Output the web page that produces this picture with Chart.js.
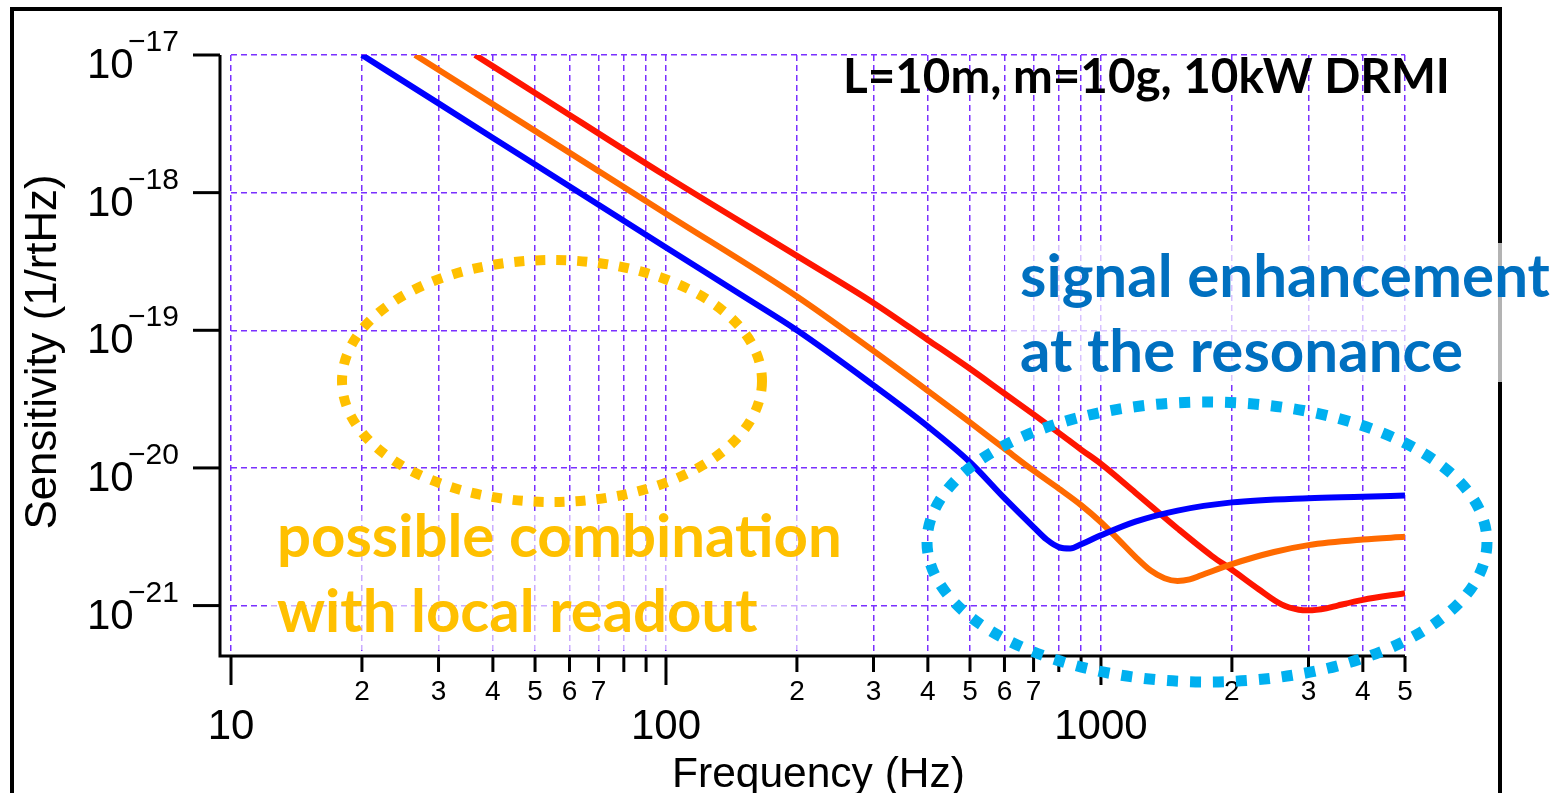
<!DOCTYPE html>
<html>
<head>
<meta charset="utf-8">
<script src="https://cdn.jsdelivr.net/npm/chart.js@4.4.0/dist/chart.umd.min.js"></script>
<style>
  html, body { margin: 0; padding: 0; background: #fff; }
</style>
</head>
<body>
<canvas id="sensChart" width="1565" height="793"></canvas>
<script>
// values (Hz, 1/rtHz)
const blueFreq = [20, 30, 50, 100, 150, 200, 300, 400, 500, 600, 700, 750, 800, 850, 900, 1000, 1200, 1500, 2000, 3000, 4000, 5000];
const blueSens = [1.0e-17, 4.45e-18, 1.6e-18, 4.0e-19, 1.78e-19, 1.0e-19, 3.98e-20, 2.0e-20, 1.1e-20, 6.03e-21, 3.72e-21, 3.02e-21, 2.66e-21, 2.6e-21, 2.79e-21, 3.24e-21, 4.07e-21, 4.9e-21, 5.62e-21, 6.03e-21, 6.17e-21, 6.31e-21];

const orangeFreq = [26.5, 50, 100, 200, 300, 400, 500, 600, 700, 800, 900, 1000, 1100, 1200, 1300, 1400, 1500, 1600, 1700, 2000, 2500, 3000, 4000, 5000];
const orangeSens = [1.0e-17, 2.81e-18, 7.03e-19, 1.76e-19, 7.08e-20, 3.63e-20, 2.14e-20, 1.38e-20, 9.55e-21, 7.08e-21, 5.37e-21, 4.03e-21, 2.99e-21, 2.26e-21, 1.8e-21, 1.58e-21, 1.51e-21, 1.55e-21, 1.66e-21, 2.0e-21, 2.45e-21, 2.75e-21, 3.02e-21, 3.16e-21];

const redFreq = [36.4, 50, 100, 200, 300, 400, 500, 600, 700, 800, 900, 1000, 1200, 1500, 1800, 2000, 2300, 2600, 2850, 3000, 3300, 3500, 4000, 5000];
const redSens = [1.0e-17, 5.3e-18, 1.32e-18, 3.47e-19, 1.58e-19, 8.51e-20, 5.25e-20, 3.47e-20, 2.45e-20, 1.8e-20, 1.36e-20, 1.07e-20, 6.61e-21, 3.63e-21, 2.29e-21, 1.82e-21, 1.32e-21, 1.02e-21, 9.33e-22, 9.23e-22, 9.55e-22, 1.0e-21, 1.1e-21, 1.23e-21];

// axis ticks
const xGridVals = [10, 20, 30, 40, 50, 60, 70, 80, 90, 100, 200, 300, 400, 500, 600, 700, 800, 900, 1000, 2000, 3000, 4000, 5000];
const xMajorVals = [10, 100, 1000];
const xMajorLabels = ['10', '100', '1000'];
const xMinorLabelVals = [20, 30, 40, 50, 60, 70, 200, 300, 400, 500, 600, 700, 2000, 3000, 4000, 5000];
const xMinorLabels = ['2', '3', '4', '5', '6', '7', '2', '3', '4', '5', '6', '7', '2', '3', '4', '5'];
const yTickVals = [1e-21, 1e-20, 1e-19, 1e-18, 1e-17];
const yTickExps = ['\u221221', '\u221220', '\u221219', '\u221218', '\u221217'];

const gridColor = '#7a30ff';
const narrow = "'Liberation Sans Narrow', 'Liberation Sans', sans-serif";

function toPoints(fs, vs) {
  return fs.map((f, i) => ({ x: f, y: vs[i] }));
}

function fitFont(ctx, text, width, weight, family) {
  ctx.font = `${weight} 100px ${family}`;
  const w = ctx.measureText(text).width;
  return 100 * width / w;
}

function dottedEllipse(ctx, cx, cy, rx, ry, color, lw, dash) {
  ctx.save();
  ctx.strokeStyle = color;
  ctx.lineWidth = lw;
  ctx.setLineDash(dash);
  ctx.lineCap = 'butt';
  ctx.beginPath();
  ctx.ellipse(cx, cy, rx, ry, 0, 0, Math.PI * 2);
  ctx.stroke();
  ctx.restore();
}

const decor = {
  id: 'decor',
  beforeDatasetsDraw(chart) {
    const ctx = chart.ctx;
    ctx.save();
    // outer frame
    ctx.strokeStyle = '#000';
    ctx.lineWidth = 4;
    ctx.beginPath();
    ctx.moveTo(12, 800);
    ctx.lineTo(12, 9);
    ctx.lineTo(1500, 9);
    ctx.lineTo(1500, 800);
    ctx.stroke();
    // half-transparent backings behind the notes
    ctx.fillStyle = 'rgba(255,255,255,0.7)';
    ctx.fillRect(1005, 243, 510, 139);
    ctx.fillStyle = 'rgba(255,255,255,0.6)';
    ctx.fillRect(270, 512, 580, 138);
    ctx.restore();
  },
  afterDatasetsDraw(chart) {
    const ctx = chart.ctx;
    const xs = chart.scales.x;
    const ys = chart.scales.y;
    const axisX = 220, axisY = 656;
    const top = ys.getPixelForValue(1e-17);
    const right = xs.getPixelForValue(5000);
    ctx.save();
    ctx.strokeStyle = '#000';
    ctx.fillStyle = '#000';
    ctx.lineWidth = 3;
    ctx.lineCap = 'butt';
    // axis lines
    ctx.beginPath();
    ctx.moveTo(axisX, top);
    ctx.lineTo(axisX, axisY);
    ctx.lineTo(right, axisY);
    ctx.stroke();
    // y ticks
    yTickVals.forEach(v => {
      const py = ys.getPixelForValue(v);
      ctx.beginPath();
      ctx.moveTo(193, py);
      ctx.lineTo(axisX, py);
      ctx.stroke();
    });
    // x ticks
    xGridVals.forEach(v => {
      const px = xs.getPixelForValue(v);
      const len = xMajorVals.includes(v) ? 29 : 16;
      ctx.beginPath();
      ctx.moveTo(px, axisY);
      ctx.lineTo(px, axisY + len);
      ctx.stroke();
    });
    // y tick labels
    ctx.textBaseline = 'alphabetic';
    ctx.textAlign = 'left';
    yTickVals.forEach((v, i) => {
      const py = ys.getPixelForValue(v);
      ctx.font = `42px ${narrow}`;
      ctx.fillText('10', 87, py + 23);
      ctx.font = `30px ${narrow}`;
      ctx.fillText(yTickExps[i], 128, py - 4);
    });
    // x tick labels
    ctx.textAlign = 'center';
    ctx.font = `28px ${narrow}`;
    xMinorLabelVals.forEach((v, i) => {
      ctx.fillText(xMinorLabels[i], xs.getPixelForValue(v), 700);
    });
    ctx.font = `42px ${narrow}`;
    xMajorVals.forEach((v, i) => {
      ctx.fillText(xMajorLabels[i], xs.getPixelForValue(v), 739);
    });
    // axis titles
    const sans = "'Liberation Sans', Arial, sans-serif";
    let fs = fitFont(ctx, 'Frequency (Hz)', 293, 400, sans);
    ctx.font = `400 ${fs}px ${sans}`;
    ctx.textAlign = 'left';
    ctx.fillText('Frequency (Hz)', 672, 787);
    fs = fitFont(ctx, 'Sensitivity (1/rtHz)', 355, 400, sans);
    ctx.save();
    ctx.translate(56, 352);
    ctx.rotate(-Math.PI / 2);
    ctx.font = `400 ${fs}px ${sans}`;
    ctx.textAlign = 'center';
    ctx.fillText('Sensitivity (1/rtHz)', 0, 0);
    ctx.restore();

    // ellipses
    dottedEllipse(ctx, 552, 381, 210, 121, '#ffc000', 10, [10, 11]);
    dottedEllipse(ctx, 1207, 542, 280, 140, '#00b0f0', 11, [11, 12]);

    // notes
    const note = "Lato, 'Open Sans', sans-serif";
    ctx.textAlign = 'left';
    fs = fitFont(ctx, 'L=10m, m=10g, 10kW DRMI', 607, 700, note);
    ctx.font = `700 ${fs}px ${note}`;
    ctx.fillStyle = '#000';
    ctx.fillText('L=10m, m=10g, 10kW DRMI', 843, 93);

    fs = fitFont(ctx, 'signal enhancement', 530, 700, note);
    ctx.font = `700 ${fs}px ${note}`;
    ctx.fillStyle = '#0070c0';
    ctx.fillText('signal enhancement', 1020, 297);
    ctx.fillText('at the resonance', 1020, 372);

    fs = fitFont(ctx, 'possible combination', 565, 700, note);
    ctx.font = `700 ${fs}px ${note}`;
    ctx.fillStyle = '#ffc000';
    ctx.fillText('possible combination', 277, 557);
    ctx.fillText('with local readout', 277, 632);
    ctx.restore();
  }
};

const lineBase = { borderWidth: 6, pointRadius: 0, fill: false, cubicInterpolationMode: 'monotone' };

new Chart(document.getElementById('sensChart'), {
  type: 'line',
  data: {
    datasets: [
      Object.assign({ label: 'blue', data: toPoints(blueFreq, blueSens), borderColor: '#0000ff' }, lineBase),
      Object.assign({ label: 'orange', data: toPoints(orangeFreq, orangeSens), borderColor: '#ff6a00' }, lineBase),
      Object.assign({ label: 'red', data: toPoints(redFreq, redSens), borderColor: '#ff1500' }, lineBase)
    ]
  },
  options: {
    responsive: false,
    animation: false,
    layout: { padding: { left: 231, right: 160, top: 55, bottom: 141 } },
    plugins: { legend: { display: false }, tooltip: { enabled: false } },
    scales: {
      x: {
        type: 'logarithmic',
        min: 10,
        max: 5000,
        afterBuildTicks: s => { s.ticks = xGridVals.map(v => ({ value: v })); },
        ticks: { display: false },
        border: { display: false, dash: [6, 4] },
        grid: { color: gridColor, lineWidth: 1.5, drawTicks: false }
      },
      y: {
        type: 'logarithmic',
        min: 4.6e-22,
        max: 1e-17,
        afterBuildTicks: s => { s.ticks = yTickVals.map(v => ({ value: v })); },
        ticks: { display: false },
        border: { display: false, dash: [6, 4] },
        grid: { color: gridColor, lineWidth: 1.5, drawTicks: false }
      }
    }
  },
  plugins: [decor]
});
</script>
</body>
</html>
